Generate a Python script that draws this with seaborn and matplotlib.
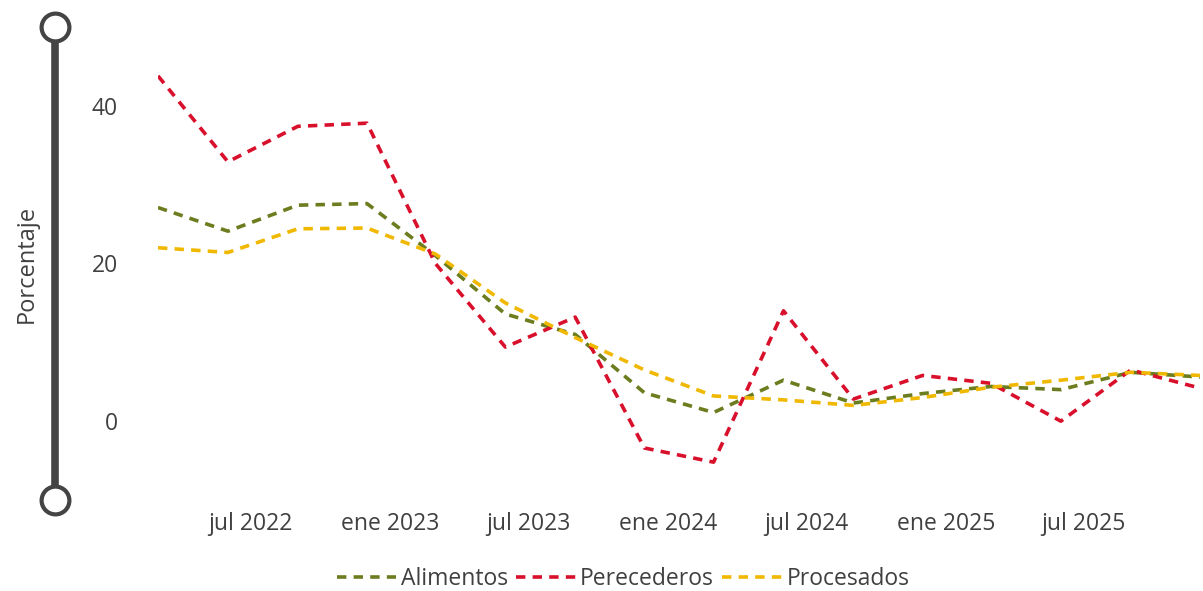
import pandas as pd
import seaborn as sns
import matplotlib.pyplot as plt
from matplotlib.lines import Line2D

# Data (quarterly)
fechas = ["2022-03-01", "2022-06-01", "2022-09-01", "2022-12-01",
          "2023-03-01", "2023-06-01", "2023-09-01", "2023-12-01",
          "2024-03-01", "2024-06-01", "2024-09-01", "2024-12-01",
          "2025-03-01", "2025-06-01", "2025-09-01", "2025-12-01"]
alimentos = [27.1, 24.1, 27.4, 27.6, 21.0, 13.6, 11.0, 3.6,
             1.1, 5.2, 2.3, 3.5, 4.4, 4.0, 6.2, 5.6]
perecederos = [43.8, 32.9, 37.4, 37.8, 20.0, 9.4, 13.2, -3.4,
               -5.2, 14.0, 2.8, 5.8, 4.8, 0.0, 6.5, 4.2]
procesados = [22.0, 21.4, 24.4, 24.5, 21.2, 15.0, 10.6, 6.5,
              3.2, 2.7, 2.0, 3.0, 4.3, 5.2, 6.2, 5.8]

series = ["Alimentos", "Perecederos", "Procesados"]
colores = ["#6b7d1f", "#d9102c", "#f0b800"]

tick_fechas = ["2022-07-01", "2023-01-01", "2023-07-01", "2024-01-01",
               "2024-07-01", "2025-01-01", "2025-07-01"]
tick_labels = ["jul 2022", "ene 2023", "jul 2023", "ene 2024",
               "jul 2024", "ene 2025", "jul 2025"]

df = pd.DataFrame({
    "Fecha": pd.to_datetime(fechas * 3),
    "Valor": alimentos + perecederos + procesados,
    "Serie": [s for s in series for _ in fechas],
})

sns.set_theme(style="white")
plt.rcParams["font.family"] = ["Open Sans", "DejaVu Sans"]
txt = "#404040"
fs = 16.5

fig = plt.figure(figsize=(12.03, 5.91), dpi=100)
ax = fig.add_axes([158 / 1203, 1 - 500 / 591, 1 - 158 / 1203, 473 / 591])

dash = (2.6, 2.0)
sns.lineplot(
    data=df, x="Fecha", y="Valor", hue="Serie", style="Serie",
    palette=dict(zip(series, colores)),
    dashes={s: dash for s in series},
    linewidth=2.6, ax=ax, legend=False,
)

ax.set_ylim(-10, 50)
ax.set_yticks([0, 20, 40])
ax.set_xlim(pd.Timestamp("2022-03-01"), pd.Timestamp("2025-12-05"))
ax.set_xticks(pd.to_datetime(tick_fechas))
ax.set_xticklabels(tick_labels)
ax.tick_params(axis="both", length=0, labelsize=fs, labelcolor=txt)
ax.tick_params(axis="y", pad=29)
ax.tick_params(axis="x", pad=9)
for s in ax.spines.values():
    s.set_visible(False)
ax.grid(False)

ax.set_xlabel("")
ax.set_ylabel("Porcentaje", fontsize=fs + 0.5, color=txt)
ax.yaxis.set_label_coords(-0.1145, 0.5)

# y axis bar with round caps
x0 = 55 / 1203
barra = Line2D([x0, x0], [1 - 500 / 591, 1 - 27 / 591], transform=fig.transFigure,
               color="#444444", linewidth=5.5, marker="o", markersize=20,
               markerfacecolor="white", markeredgecolor="#444444",
               markeredgewidth=3)
fig.add_artist(barra)

handles = [Line2D([], [], color=c, linewidth=2.6, dashes=dash) for c in colores]
fig.legend(handles, series, loc="center", ncol=3,
           bbox_to_anchor=(623 / 1203, 1 - 579 / 591), frameon=False,
           fontsize=fs, labelcolor=txt, handlelength=2.6,
           handletextpad=0.2, columnspacing=0.35)

fig.savefig("out.png", dpi=100)
